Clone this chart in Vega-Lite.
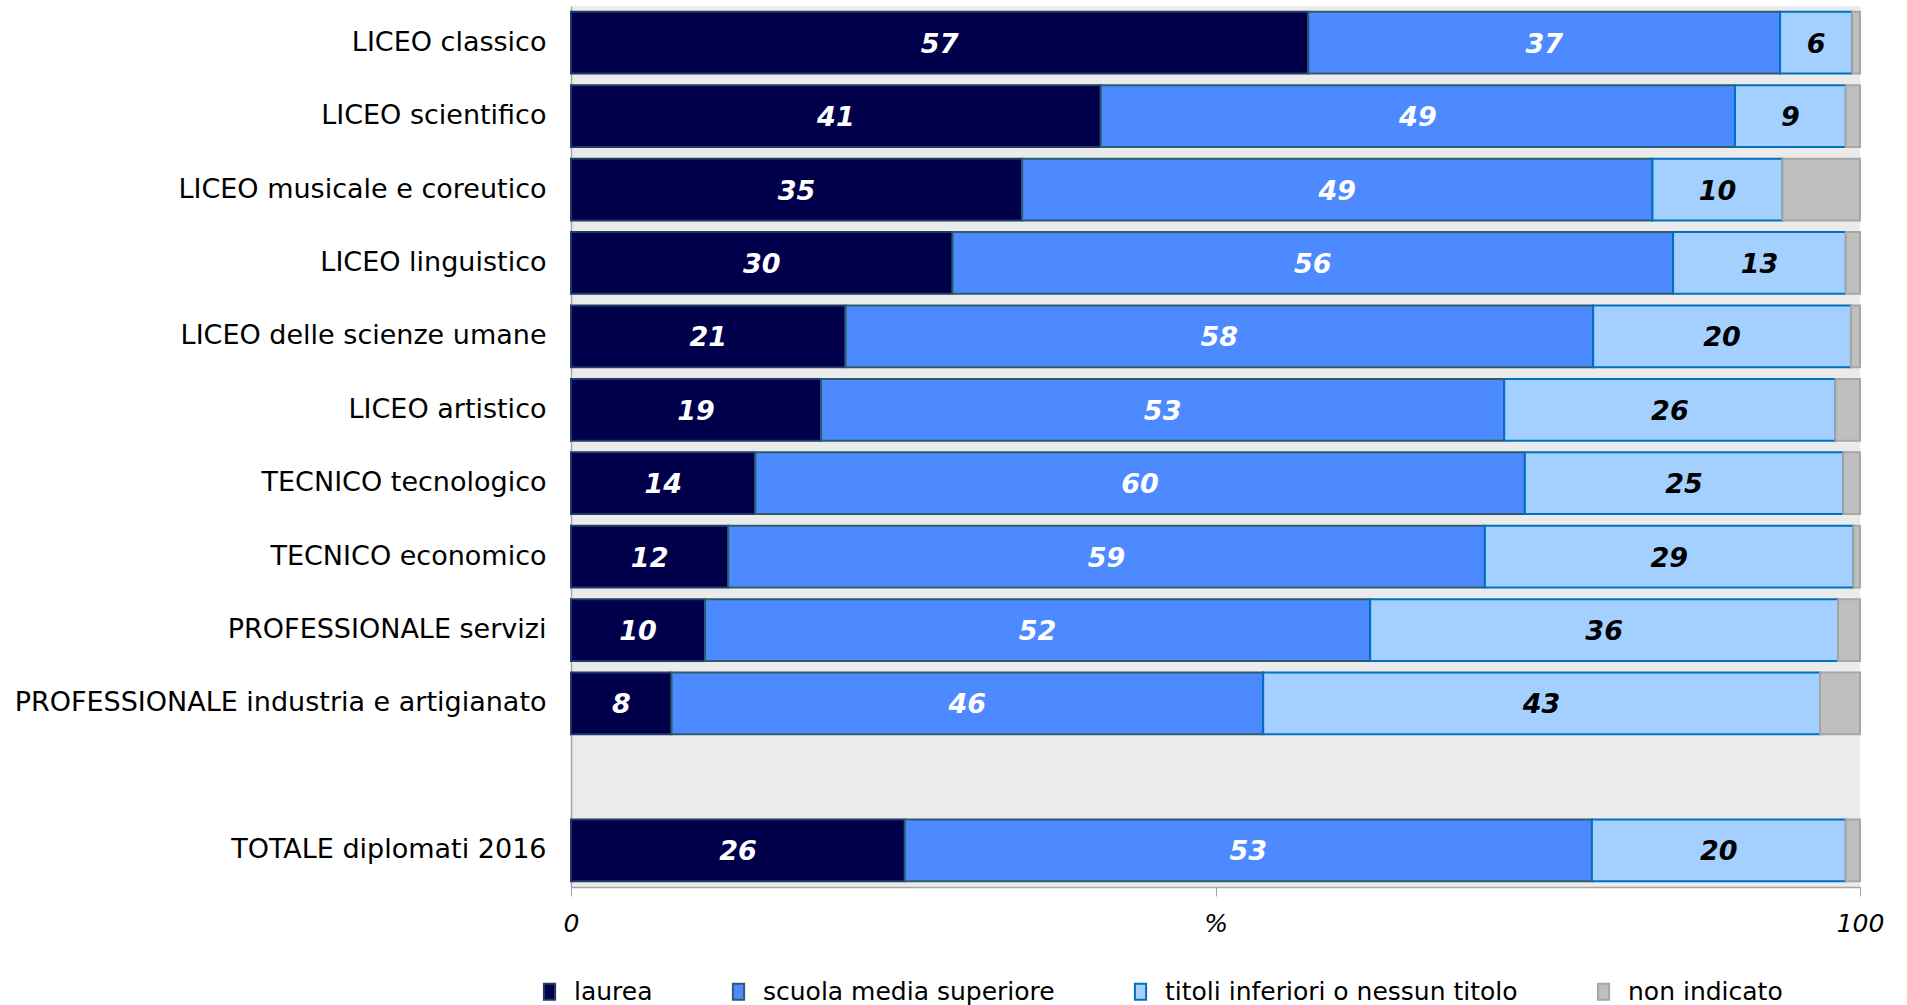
{
  "$schema": "https://vega.github.io/schema/vega-lite/v6.json",
  "width": 1289,
  "height": 881,
  "autosize": {"type": "none"},
  "padding": {"left": 571, "top": 6, "right": 47, "bottom": 118},
  "background": "white",
  "config": {
    "view": {"fill": "#ebebeb", "stroke": null},
    "font": "DejaVu Sans",
    "legend": {
      "orient": "none",
      "legendX": -34,
      "legendY": 973,
      "direction": "horizontal",
      "title": null,
      "labelFontSize": 25,
      "labelFont": "DejaVu Sans",
      "labelColor": "black",
      "labelLimit": 1000,
      "symbolType": "M-0.7,-1H0.7V1H-0.7Z",
      "symbolSize": 256,
      "symbolStrokeWidth": 2,
      "labelOffset": 12,
      "columnPadding": 73,
      "padding": 0
    }
  },
  "data": {
    "values": [
      {"scuola": "LICEO classico", "cat": "laurea", "k": 1, "v": 57.2},
      {"scuola": "LICEO classico", "cat": "scuola media superiore", "k": 2, "v": 36.6},
      {"scuola": "LICEO classico", "cat": "titoli inferiori o nessun titolo", "k": 3, "v": 5.6},
      {"scuola": "LICEO classico", "cat": "non indicato", "k": 4, "v": 0.6},
      {"scuola": "LICEO scientifico", "cat": "laurea", "k": 1, "v": 41.1},
      {"scuola": "LICEO scientifico", "cat": "scuola media superiore", "k": 2, "v": 49.2},
      {"scuola": "LICEO scientifico", "cat": "titoli inferiori o nessun titolo", "k": 3, "v": 8.6},
      {"scuola": "LICEO scientifico", "cat": "non indicato", "k": 4, "v": 1.1},
      {"scuola": "LICEO musicale e coreutico", "cat": "laurea", "k": 1, "v": 35.0},
      {"scuola": "LICEO musicale e coreutico", "cat": "scuola media superiore", "k": 2, "v": 48.9},
      {"scuola": "LICEO musicale e coreutico", "cat": "titoli inferiori o nessun titolo", "k": 3, "v": 10.1},
      {"scuola": "LICEO musicale e coreutico", "cat": "non indicato", "k": 4, "v": 6.0},
      {"scuola": "LICEO linguistico", "cat": "laurea", "k": 1, "v": 29.6},
      {"scuola": "LICEO linguistico", "cat": "scuola media superiore", "k": 2, "v": 55.9},
      {"scuola": "LICEO linguistico", "cat": "titoli inferiori o nessun titolo", "k": 3, "v": 13.4},
      {"scuola": "LICEO linguistico", "cat": "non indicato", "k": 4, "v": 1.1},
      {"scuola": "LICEO delle scienze umane", "cat": "laurea", "k": 1, "v": 21.3},
      {"scuola": "LICEO delle scienze umane", "cat": "scuola media superiore", "k": 2, "v": 58.0},
      {"scuola": "LICEO delle scienze umane", "cat": "titoli inferiori o nessun titolo", "k": 3, "v": 20.0},
      {"scuola": "LICEO delle scienze umane", "cat": "non indicato", "k": 4, "v": 0.7},
      {"scuola": "LICEO artistico", "cat": "laurea", "k": 1, "v": 19.4},
      {"scuola": "LICEO artistico", "cat": "scuola media superiore", "k": 2, "v": 53.0},
      {"scuola": "LICEO artistico", "cat": "titoli inferiori o nessun titolo", "k": 3, "v": 25.7},
      {"scuola": "LICEO artistico", "cat": "non indicato", "k": 4, "v": 1.9},
      {"scuola": "TECNICO tecnologico", "cat": "laurea", "k": 1, "v": 14.3},
      {"scuola": "TECNICO tecnologico", "cat": "scuola media superiore", "k": 2, "v": 59.7},
      {"scuola": "TECNICO tecnologico", "cat": "titoli inferiori o nessun titolo", "k": 3, "v": 24.7},
      {"scuola": "TECNICO tecnologico", "cat": "non indicato", "k": 4, "v": 1.3},
      {"scuola": "TECNICO economico", "cat": "laurea", "k": 1, "v": 12.2},
      {"scuola": "TECNICO economico", "cat": "scuola media superiore", "k": 2, "v": 58.7},
      {"scuola": "TECNICO economico", "cat": "titoli inferiori o nessun titolo", "k": 3, "v": 28.6},
      {"scuola": "TECNICO economico", "cat": "non indicato", "k": 4, "v": 0.5},
      {"scuola": "PROFESSIONALE servizi", "cat": "laurea", "k": 1, "v": 10.4},
      {"scuola": "PROFESSIONALE servizi", "cat": "scuola media superiore", "k": 2, "v": 51.6},
      {"scuola": "PROFESSIONALE servizi", "cat": "titoli inferiori o nessun titolo", "k": 3, "v": 36.3},
      {"scuola": "PROFESSIONALE servizi", "cat": "non indicato", "k": 4, "v": 1.7},
      {"scuola": "PROFESSIONALE industria e artigianato", "cat": "laurea", "k": 1, "v": 7.8},
      {"scuola": "PROFESSIONALE industria e artigianato", "cat": "scuola media superiore", "k": 2, "v": 45.9},
      {"scuola": "PROFESSIONALE industria e artigianato", "cat": "titoli inferiori o nessun titolo", "k": 3, "v": 43.2},
      {"scuola": "PROFESSIONALE industria e artigianato", "cat": "non indicato", "k": 4, "v": 3.1},
      {"scuola": "TOTALE diplomati 2016", "cat": "laurea", "k": 1, "v": 25.9},
      {"scuola": "TOTALE diplomati 2016", "cat": "scuola media superiore", "k": 2, "v": 53.3},
      {"scuola": "TOTALE diplomati 2016", "cat": "titoli inferiori o nessun titolo", "k": 3, "v": 19.7},
      {"scuola": "TOTALE diplomati 2016", "cat": "non indicato", "k": 4, "v": 1.1}
    ]
  },
  "encoding": {
    "y": {
      "field": "scuola",
      "type": "nominal",
      "title": null,
      "scale": {
        "domain": ["LICEO classico", "LICEO scientifico", "LICEO musicale e coreutico", "LICEO linguistico", "LICEO delle scienze umane", "LICEO artistico", "TECNICO tecnologico", "TECNICO economico", "PROFESSIONALE servizi", "PROFESSIONALE industria e artigianato", " ", "TOTALE diplomati 2016"],
        "paddingInner": 0.16,
        "paddingOuter": 0.08
      },
      "axis": {
        "ticks": false,
        "domainColor": "#a6a6a6",
        "domainWidth": 1.5,
        "labelFontSize": 27,
        "labelFont": "DejaVu Sans",
        "labelColor": "black",
        "labelPadding": 25,
        "labelLimit": 1000
      }
    }
  },
  "layer": [
    {
      "mark": {"type": "bar", "strokeWidth": 2},
      "encoding": {
        "x": {
          "field": "v",
          "type": "quantitative",
          "stack": "zero",
          "title": null,
          "scale": {"domain": [0, 100], "nice": false},
          "axis": {
            "values": [0, 50, 100],
            "labelExpr": "datum.value == 50 ? '%' : datum.label",
            "grid": false,
            "domainColor": "#a6a6a6",
            "domainWidth": 1.5,
            "tickColor": "#a6a6a6",
            "tickSize": 9,
            "labelFontSize": 25,
            "labelFontStyle": "italic",
            "labelFont": "DejaVu Sans",
            "labelColor": "black",
            "labelPadding": 15,
            "labelFlush": false
          }
        },
        "fill": {
          "field": "cat",
          "type": "nominal",
          "scale": {
            "domain": ["laurea", "scuola media superiore", "titoli inferiori o nessun titolo", "non indicato"],
            "range": ["#00004a", "#4d8aff", "#a3d0ff", "#bfbfbf"]
          }
        },
        "stroke": {
          "field": "cat",
          "type": "nominal",
          "scale": {
            "domain": ["laurea", "scuola media superiore", "titoli inferiori o nessun titolo", "non indicato"],
            "range": ["#1f3b66", "#2b5d6e", "#0070c0", "#a6a6a6"]
          }
        },
        "order": {"field": "k", "type": "quantitative"}
      }
    },
    {
      "transform": [{"filter": "datum.k < 4"}],
      "mark": {"type": "text", "fontStyle": "italic", "fontWeight": "bold", "fontSize": 27, "font": "DejaVu Sans", "baseline": "middle", "align": "center", "dy": 2},
      "encoding": {
        "x": {"field": "v", "type": "quantitative", "stack": "zero", "bandPosition": 0.5},
        "detail": {"field": "cat", "type": "nominal"},
        "text": {"field": "v", "type": "quantitative", "format": ".0f"},
        "color": {"condition": {"test": "datum.k < 3", "value": "white"}, "value": "black"},
        "order": {"field": "k", "type": "quantitative"}
      }
    }
  ]
}
